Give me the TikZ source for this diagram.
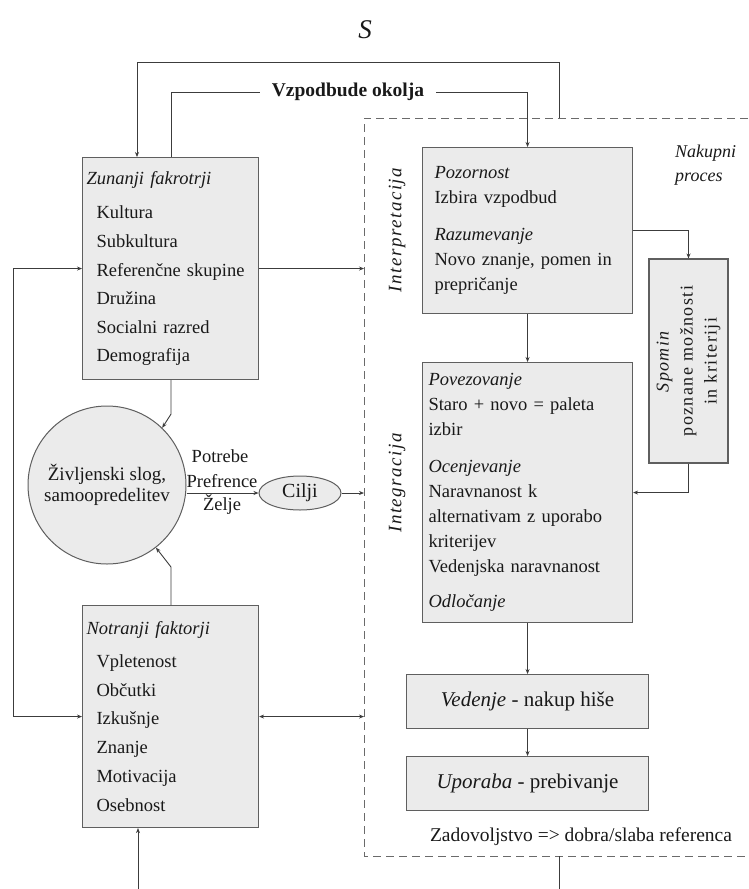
\documentclass[tikz,border=0pt]{standalone}
\usepackage{fontspec}
\setmainfont{Liberation Serif}
\newfontfamily\spacedfont[LetterSpace=8]{Liberation Serif}
\usetikzlibrary{arrows.meta,calc,shapes.geometric}

\definecolor{boxfill}{RGB}{235,235,235}
\definecolor{boxline}{RGB}{95,95,95}
\definecolor{ink}{RGB}{25,25,25}

\begin{document}
\begin{tikzpicture}[x=1pt, y=-1pt,
    every node/.style={text=ink},
    box/.style={draw=boxline, line width=1.1pt, fill=boxfill, anchor=north west, inner ysep=0pt},
    line/.style={draw=ink!85, line width=0.9pt},
    arr/.style={line, -{Stealth[length=5pt,width=4pt]}},
    both/.style={line, {Stealth[length=5pt,width=4pt]}-{Stealth[length=5pt,width=4pt]}},
    frame/.style={draw=ink!65, line width=1pt, dash pattern=on 8pt off 5pt},
    body/.style={font=\fontsize{18.5}{25}\selectfont}]
    \useasboundingbox (0,0) rectangle (748,889);

    % Title
    \node[font=\fontsize{27}{30}\selectfont\itshape] (title) at (365,30) {S};

    % Process frame (dashed)
    \coordinate (ptl) at (364,118);
    \coordinate (pbl) at (364,856);
    \draw[frame] (748,118) -- (ptl) -- (pbl) -- (748,856);
    \node[font=\fontsize{18}{24}\selectfont\itshape, align=left, anchor=west, inner sep=0pt] (nak) at (675,165) {Nakupni\\proces};
    \node[rotate=90, font=\spacedfont\fontsize{19}{22}\selectfont\itshape] (interp) at (397,230) {Interpretacija};
    \node[rotate=90, font=\spacedfont\fontsize{19}{22}\selectfont\itshape] (integ) at (397,483) {Integracija};

    % External factors
    \node[box, inner xsep=4pt, minimum width=176pt, minimum height=222pt, text width=168pt, align=left,
        font=\fontsize{18.5}{28.6}\selectfont] (zun) at (82,157) {\textit{Zunanji fakrotrji}\\[6pt]
        \hspace*{10pt}Kultura\\
        \hspace*{10pt}Subkultura\\
        \hspace*{10pt}Referenčne skupine\\
        \hspace*{10pt}Družina\\
        \hspace*{10pt}Socialni razred\\
        \hspace*{10pt}Demografija};

    % Internal factors
    \node[box, inner xsep=4pt, minimum width=176pt, minimum height=222pt, text width=168pt, align=left,
        font=\fontsize{18.5}{28.8}\selectfont] (not) at (82,605) {\textit{Notranji faktorji}\\[4pt]
        \hspace*{10pt}Vpletenost\\
        \hspace*{10pt}Občutki\\
        \hspace*{10pt}Izkušnje\\
        \hspace*{10pt}Znanje\\
        \hspace*{10pt}Motivacija\\
        \hspace*{10pt}Osebnost};

    % Lifestyle and goals
    \node[circle, draw=boxline, line width=1pt, fill=boxfill, minimum size=158pt, inner sep=0pt, align=center,
        font=\fontsize{19}{21}\selectfont] (zs) at (107,485) {Življenski slog,\\samoopredelitev};
    \node[ellipse, draw=boxline, line width=1pt, fill=boxfill, minimum width=82pt, minimum height=34pt, inner sep=0pt,
        font=\fontsize{20}{24}\selectfont] (cilji) at (300,493) {Cilji};
    \node[body] (pot) at (220,456) {Potrebe};
    \node[body] (pref) at (222,481) {Prefrence};
    \node[body] (zel) at (222,505) {Želje};

    % Stimuli
    \node[font=\fontsize{19.5}{24}\selectfont\bfseries, inner xsep=12pt] (vz) at (348,92) {Vzpodbude okolja};

    % Purchase process
    \node[box, body, inner xsep=12pt, minimum width=210pt, minimum height=166pt, text width=186pt, align=left] (poz) at (422,147)
        {\textit{Pozornost}\\ Izbira vzpodbud\\[12pt]
        \textit{Razumevanje}\\ Novo znanje, pomen in\\ prepričanje};
    \node[box, body, inner xsep=6pt, minimum width=210pt, minimum height=260pt, text width=198pt, align=left] (pov) at (422,362)
        {\textit{Povezovanje}\\ Staro + novo = paleta\\ izbir\\[12pt]
        \textit{Ocenjevanje}\\ Naravnanost k\\ alternativam z uporabo\\ kriterijev\\ Vedenjska naravnanost\\[10pt]
        \textit{Odločanje}};
    \node[box, anchor=center, rotate=90, minimum width=204pt, minimum height=79pt, inner sep=0pt, align=center,
        font=\spacedfont\fontsize{18}{24}\selectfont] (spo) at (688.5,361)
        {\textit{Spomin}\\ poznane možnosti\\ in kriteriji};
    \node[box, minimum width=242pt, minimum height=54pt, inner sep=0pt, align=center,
        font=\fontsize{21}{25}\selectfont] (ved) at (406,674) {\textit{Vedenje} - nakup hiše};
    \node[box, minimum width=242pt, minimum height=54pt, inner sep=0pt, align=center,
        font=\fontsize{21}{25}\selectfont] (upo) at (406,756) {\textit{Uporaba} - prebivanje};
    \node[font=\fontsize{19.5}{24}\selectfont] (zad) at (581,837) {Zadovoljstvo => dobra/slaba referenca};

    % Feedback loops
    \coordinate (fb) at (559,118);
    \draw[arr] (fb) -- ++(0,-56) -| ([xshift=55pt]zun.north west);
    \draw[line] ([xshift=89pt]zun.north west) |- (vz.west);
    \draw[arr] (vz.east) -| (poz.north);
    \draw[both] (zun.west) -- ++(-69,0) |- (not.west);
    \coordinate (nbot) at (138,889);
    \draw[arr] (nbot) -- (nbot |- not.south);
    \coordinate (zfr) at (559,856);
    \coordinate (zbot) at (559,889);
    \draw[line] (zfr) -- (zbot);

    % Into the frame
    \draw[arr] (zun.east) -- (zun.east -| ptl);
    \draw[arr] (cilji.east) -- (cilji.east -| ptl);
    \draw[both] (not.east) -- (not.east -| ptl);

    % Lifestyle
    \draw[arr] ([xshift=89pt]zun.south west) -- ++(0,34) -- (zs.46);
    \draw[arr] ([xshift=89pt]not.north west) -- ++(0,-38) -- (zs.-52);
    \draw[arr] (cilji.west -| zs.east) -- (cilji.west);

    % Process steps
    \draw[arr] (poz.south) -- (pov.north);
    \draw[arr] (poz.east) -| (spo.east);
    \draw[arr] (spo.west) |- (pov.east);
    \draw[arr] (pov.south -| ved.north) -- (ved.north);
    \draw[arr] (ved.south) -- (upo.north);
\end{tikzpicture}
\end{document}
